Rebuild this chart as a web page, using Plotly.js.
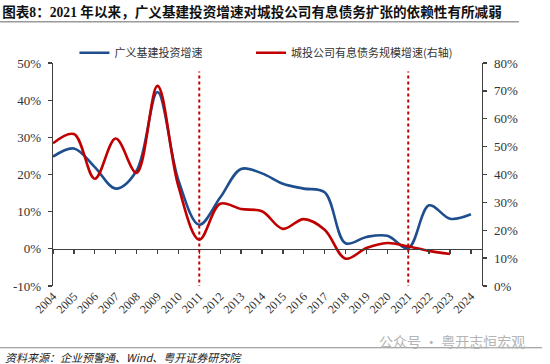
<!DOCTYPE html>
<html>
<head>
<meta charset="utf-8">
<script src="https://cdn.plot.ly/plotly-3.0.1.min.js"></script>
<style>html,body{margin:0;padding:0;background:#fff;}#chart{width:550px;height:364px;}</style>
</head>
<body>
<div id="chart"></div>
<script>
const years = [2004,2005,2006,2007,2008,2009,2010,2011,2012,2013,2014,2015,2016,2017,2018,2019,2020,2021,2022,2023,2024];
const yearLabels = years.map(String);
// 广义基建投资增速 (left axis, %)
const infraGrowth = [24.8,27.0,22.0,16.2,21.0,42.2,18.5,6.5,13.8,21.5,20.3,17.5,16.2,15.2,1.5,3.2,3.5,0.2,11.7,8.1,9.3];
// 城投公司有息债务规模增速 (right axis, %), 2004-2023
const lgfvYears = [2004,2005,2006,2007,2008,2009,2010,2011,2012,2013,2014,2015,2016,2017,2018,2019,2020,2021,2022,2023];
const lgfvDebtGrowth = [51.2,54.5,38.5,52.9,40.6,71.8,35.8,16.6,29.5,27.6,26.8,20.5,24.0,20.2,9.8,13.6,15.4,14.2,12.6,11.5];
const leftTicks = [-10,0,10,20,30,40,50];
const leftTickText = ['-10%','0%','10%','20%','30%','40%','50%'];
const rightTicks = [0,10,20,30,40,50,60,70,80];
const rightTickText = ['0%','10%','20%','30%','40%','50%','60%','70%','80%'];
const markerYears = [2011, 2021];

const serif = 'Liberation Serif, Noto Sans CJK SC, serif';
const cjk = 'Noto Sans CJK SC, sans-serif';
const axisColor = '#404040';
const blue = '#1F4E8F';
const red = '#C00000';

const traces = [
  {x: years, y: infraGrowth, name: '广义基建投资增速', type: 'scatter', mode: 'lines', legend: 'legend',
   line: {color: blue, width: 2.6, shape: 'spline', smoothing: 1}, xaxis: 'x', yaxis: 'y'},
  {x: lgfvYears, y: lgfvDebtGrowth, name: '城投公司有息债务规模增速(右轴)', type: 'scatter', mode: 'lines', legend: 'legend2',
   line: {color: red, width: 2.6, shape: 'spline', smoothing: 1}, xaxis: 'x', yaxis: 'y2'},
  {x: [], y: [], xaxis: 'x2', yaxis: 'y', showlegend: false, hoverinfo: 'skip', type: 'scatter'}
];

const xr = [2004, 2024.53];
const shapes = markerYears.map(yr => ({
  type: 'line', xref: 'x', yref: 'y', x0: yr, x1: yr, y0: -10.7, y1: 47.7,
  line: {color: red, width: 2, dash: 'dot'}
}));
shapes.push({type: 'line', xref: 'paper', yref: 'paper', x0: -0.1235, x1: 1.086, y0: 1.1855, y1: 1.1855,
  line: {color: '#9a9a9a', width: 1.5}});
shapes.push({type: 'line', xref: 'paper', yref: 'paper', x0: -0.1235, x1: 1.14, y0: -0.277, y1: -0.277,
  line: {color: '#8a8a8a', width: 1.2}});

const legendBase = {orientation: 'h', xanchor: 'left', y: 1.046, yanchor: 'middle',
  font: {family: cjk, size: 11, color: '#333'}, bgcolor: 'rgba(0,0,0,0)', itemwidth: 30};

const layout = {
  width: 550, height: 364,
  margin: {l: 53, r: 68, t: 63, b: 78, pad: 0},
  paper_bgcolor: '#fff', plot_bgcolor: '#fff',
  showlegend: true,
  title: {text: '<b>图表8：2021 年以来，广义基建投资增速对城投公司有息债务扩张的依赖性有所减弱</b>',
    xref: 'container', yref: 'container', x: 0.004, xanchor: 'left', y: 1 - 12/364, yanchor: 'middle',
    font: {family: serif, size: 13.6, color: '#111'}},
  legend: Object.assign({}, legendBase, {x: 0.05}),
  legend2: Object.assign({}, legendBase, {x: (251-53)/429}),
  xaxis: {range: xr, tickvals: years, ticktext: yearLabels, tickangle: -45, showline: false, ticks: '',
    showgrid: false, zeroline: false, tickfont: {family: serif, size: 12, color: '#333'}, anchor: 'y', fixedrange: true},
  xaxis2: {range: xr, tickvals: years, overlaying: 'x', anchor: 'free', position: 1/6, side: 'bottom',
    showline: true, linecolor: axisColor, linewidth: 1.3, ticks: 'outside', ticklen: 4, tickcolor: axisColor, tickwidth: 1.3,
    showticklabels: false, showgrid: false, zeroline: false},
  yaxis: {range: [-10, 50], tickvals: leftTicks, ticktext: leftTickText, showline: true, linecolor: axisColor, linewidth: 1.3,
    ticks: 'outside', ticklen: 4, tickcolor: axisColor, tickwidth: 1.3, showgrid: false, zeroline: false,
    tickfont: {family: serif, size: 13, color: '#333'}, ticklabelstandoff: 4},
  yaxis2: {range: [0, 80], tickvals: rightTicks, ticktext: rightTickText, overlaying: 'y', side: 'right', anchor: 'x',
    showline: true, linecolor: axisColor, linewidth: 1.3, ticks: 'outside', ticklen: 4, tickcolor: axisColor, tickwidth: 1.3,
    showgrid: false, zeroline: false, tickfont: {family: serif, size: 13, color: '#333'}, ticklabelstandoff: 4},
  shapes: shapes,
  annotations: [
    {text: '资料来源：企业预警通、<i>Wind</i>、粤开证券研究院', xref: 'paper', yref: 'paper',
     x: -53/429 + 3/429, xanchor: 'left', y: (286-357)/222.7, yanchor: 'middle', showarrow: false,
     font: {family: cjk, size: 11, color: '#222', style: 'italic'}},
    {text: '公众号 · 粤开志恒宏观', xref: 'paper', yref: 'paper',
     x: (377-53)/429, xanchor: 'left', y: (286-341)/222.7, yanchor: 'middle', showarrow: false,
     font: {family: cjk, size: 14, color: '#b4b4b4'}}
  ]
};

Plotly.newPlot('chart', traces, layout, {staticPlot: true, displayModeBar: false});
</script>
</body>
</html>
